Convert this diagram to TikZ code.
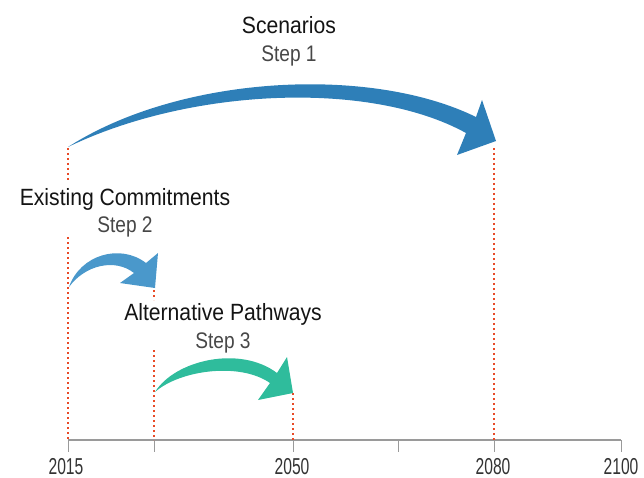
\documentclass[tikz,border=0pt]{standalone}
\usepackage{fontspec}
\setmainfont{Liberation Sans}
\newfontfamily\titlefont{Liberation Sans}[FakeStretch=0.9]
\newfontfamily\stepfont{Liberation Sans}[FakeStretch=0.85]
\newfontfamily\yearfont{Liberation Sans}[FakeStretch=0.68]
\definecolor{arrowA}{HTML}{2E7FB8}
\definecolor{arrowB}{HTML}{4A98CB}
\definecolor{arrowC}{HTML}{2FBC9C}
\definecolor{redline}{HTML}{E84A27}
\definecolor{axisgray}{HTML}{9A9A9A}
\begin{document}
\begin{tikzpicture}[x=1pt,y=-1pt,
  title/.style={anchor=base,inner sep=0pt,text=black!92,font=\titlefont\fontsize{23.5}{27}\selectfont},
  steplbl/.style={anchor=base,inner sep=0pt,text=black!72,font=\stepfont\fontsize{22.5}{26}\selectfont},
  yearlbl/.style={anchor=base,inner sep=0pt,text=black!80,font=\yearfont\fontsize{23}{26}\selectfont},
  guide/.style={draw=redline,line width=2.6pt,dash pattern=on 2.4pt off 2.6pt},
  axisline/.style={draw=axisgray,line width=1.1pt},
  tickline/.style={draw=axisgray,line width=1pt}]
\useasboundingbox (0,0) rectangle (644,478);

% axis
\coordinate (a0) at (68,440);
\coordinate (a1) at (621,440);
\draw[axisline] (a0) -- (a1);
\foreach \x/\n in {68/t1,154/t2,293/t3,398/t4,494/t5,621/t6}{
  \coordinate (\n) at (\x,440);
  \coordinate (\n b) at (\x,452);
  \draw[tickline] (\n) -- (\n b);
}
\node[yearlbl] (y2015) at (66,474) {2015};
\node[yearlbl] (y2050) at (292,474) {2050};
\node[yearlbl] (y2080) at (493,474) {2080};
\node[yearlbl] (y2100) at (621,474) {2100};

% guides
\coordinate (g1a) at (68,148); \coordinate (g1b) at (68,180);
\coordinate (g1c) at (68,237); \coordinate (g1d) at (68,440);
\draw[guide] (g1a) -- (g1b);
\draw[guide] (g1c) -- (g1d);
\coordinate (g2a) at (154,290); \coordinate (g2b) at (154,300);
\coordinate (g2c) at (154,350); \coordinate (g2d) at (154,440);
\draw[guide] (g2a) -- (g2b);
\draw[guide] (g2c) -- (g2d);
\coordinate (g3a) at (293,393); \coordinate (g3b) at (293,440);
\draw[guide] (g3a) -- (g3b);
\coordinate (g4a) at (494,148); \coordinate (g4b) at (494,440);
\draw[guide] (g4a) -- (g4b);

% arrow 1
\fill[arrowA] (68,147) .. controls (180,75) and (370,65) .. (476,117)
  -- (482,100) -- (496,141) -- (457,155) -- (466,133)
  .. controls (370,80) and (190,88) .. (68,147) -- cycle;
% arrow 2
\fill[arrowB] (69,287) .. controls (80,255) and (120,243) .. (146,263)
  -- (158,253) -- (155,288) -- (120,283) -- (134,273)
  .. controls (115,258) and (85,265) .. (69,287) -- cycle;
% arrow 3
\fill[arrowC] (155,392) .. controls (175,360) and (240,345) .. (277,373)
  -- (287,357) -- (293,393) -- (258,400) -- (270,383)
  .. controls (240,362) and (180,370) .. (155,392) -- cycle;

% labels
\node[title] (scen) at (289,34) {Scenarios};
\node[steplbl] (step1) at (289,62) {Step 1};
\node[title] (exist) at (125,206) {Existing Commitments};
\node[steplbl] (step2) at (125,233) {Step 2};
\node[title] (alt) at (223,320) {Alternative Pathways};
\node[steplbl] (step3) at (223,348) {Step 3};
\end{tikzpicture}
\end{document}
